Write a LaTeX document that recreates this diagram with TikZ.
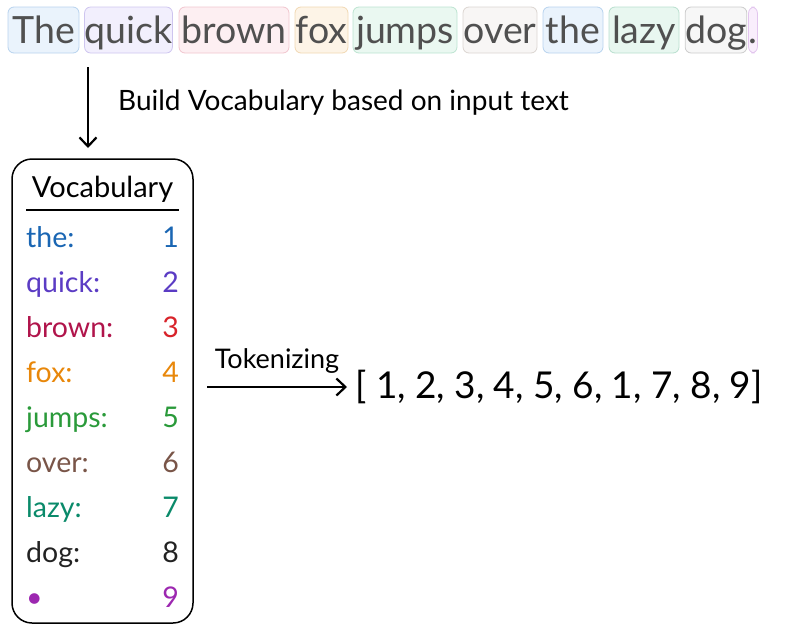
\documentclass[tikz,border=0pt]{standalone}
\usepackage{fontspec}
\setmainfont{Lato}
\usetikzlibrary{arrows.meta,positioning,calc}
\definecolor{wordtext}{HTML}{505050}
\definecolor{bga}{HTML}{EAF3FC}\definecolor{bda}{HTML}{B7D3EE}
\definecolor{bgb}{HTML}{F2EFFD}\definecolor{bdb}{HTML}{CEC5EF}
\definecolor{bgc}{HTML}{FDEFF2}\definecolor{bdc}{HTML}{F1C5CE}
\definecolor{bgd}{HTML}{FDF4E7}\definecolor{bdd}{HTML}{F1D8B3}
\definecolor{bge}{HTML}{EAF8F1}\definecolor{bde}{HTML}{BCE4D1}
\definecolor{bgf}{HTML}{F8F6F5}\definecolor{bdf}{HTML}{DBD5D1}
\definecolor{bgg}{HTML}{E8F7F0}\definecolor{bdg}{HTML}{B8DFCE}
\definecolor{bgh}{HTML}{F7F7F7}\definecolor{bdh}{HTML}{CCCCCC}
\definecolor{bgi}{HTML}{F9EEFC}\definecolor{bdi}{HTML}{E2C5EE}
\definecolor{vthe}{HTML}{1A66B3}
\definecolor{vquick}{HTML}{5B3CC4}
\definecolor{vbrown}{HTML}{B0144B}
\definecolor{vthree}{HTML}{D8232A}
\definecolor{vfox}{HTML}{E8870A}
\definecolor{vjumps}{HTML}{2A9A3A}
\definecolor{vover}{HTML}{795548}
\definecolor{vlazy}{HTML}{0A8A6A}
\definecolor{vdog}{HTML}{222222}
\definecolor{vdot}{HTML}{9C27B0}
\tikzset{
  word/.style={draw=bd#1, fill=bg#1, line width=0.8pt, rounded corners=6pt,
    inner xsep=0pt, inner ysep=0pt, text height=36pt, text depth=10pt,
    text=wordtext, font=\fontsize{37.5}{37.5}\selectfont},
  vword/.style={inner sep=0pt, font=\fontsize{28.5}{28.5}\selectfont},
  arr/.style={-{Straight Barb[length=9pt,width=17pt]}, line width=2.2pt},
}
\begin{document}
\begin{tikzpicture}[x=1pt,y=-1pt]
    \useasboundingbox (0,0) rectangle (786,632);
    % input sentence
    \foreach \w/\xa/\xb/\c in {The/8/79/a,quick/85/172/b,brown/179/289/c,fox/295/348/d,jumps/353/457/e,over/463/537/f,the/543/603/a,lazy/609/679/g,dog/686/746/h,./749/757/i}
        \node[word=\c, minimum width={\xb-\xa}, anchor=base] (w\xa) at ({(\xa+\xb)/2},43) {\w};
    % build step
    \coordinate (b0) at (88,67);
    \coordinate (b1) at (88,148);
    \draw[arr] (b0) -- (b1);
    \node[inner sep=0pt, anchor=base west, font=\fontsize{28}{28}\selectfont] (build) at (118,110) {Build Vocabulary based on input text};
    % vocabulary
    \node[draw, line width=1.5pt, rounded corners=20pt, minimum width=181pt, minimum height=464pt] (vocab) at (102.5,391) {};
    \node[vword, anchor=base, font=\fontsize{29}{29}\selectfont] (vtitle) at (102.5,197) {Vocabulary};
    \draw[line width=1.5pt] (26,210) -- (179,210);
    \foreach \k/\n/\ck/\cn [count=\i] in {the:/1/vthe/vthe,quick:/2/vquick/vquick,brown:/3/vbrown/vthree,fox:/4/vfox/vfox,jumps:/5/vjumps/vjumps,over:/6/vover/vover,lazy:/7/vlazy/vlazy,dog:/8/vdog/vdog,•/9/vdot/vdot}{
        \node[vword, text=\ck, anchor=base west] (k\i) at (26,{202+45*\i}) {\k};
        \node[vword, text=\cn, anchor=base east] (n\i) at (179,{202+45*\i}) {\n};
    }
    % tokenizing
    \node[inner sep=0pt, anchor=base west, font=\fontsize{37}{37}\selectfont] (list) at (355,398) {[ 1, 2, 3, 4, 5, 6, 1, 7, 8, 9]};
    \coordinate (t0) at (207,387);
    \coordinate (t1) at (347,387);
    \draw[arr] (t0) -- node[inner sep=0pt, anchor=base, yshift=19pt, font=\fontsize{27}{27}\selectfont] (tok) {Tokenizing} (t1);
\end{tikzpicture}
\end{document}
